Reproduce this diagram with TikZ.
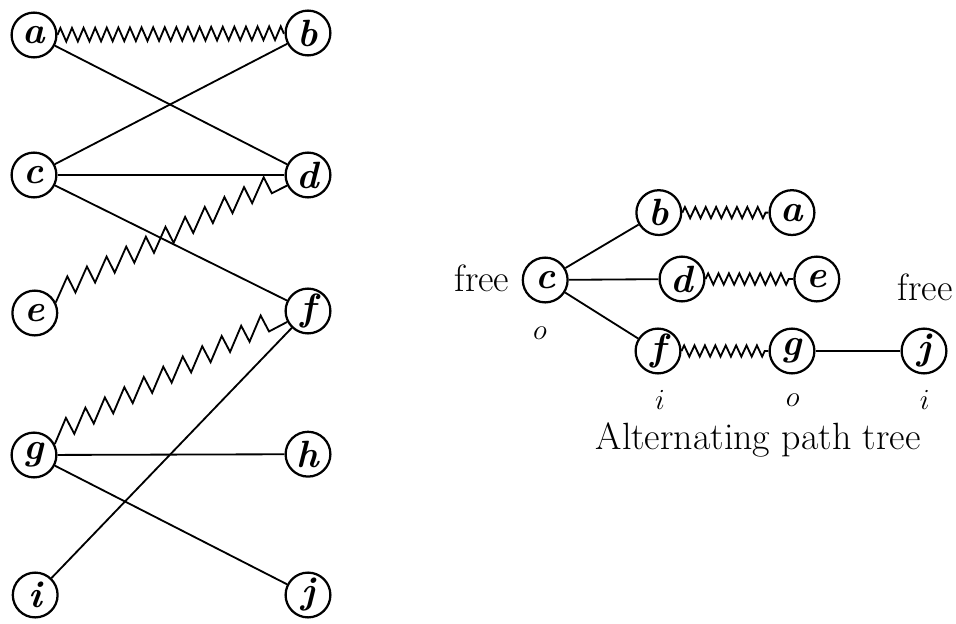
\documentclass[tikz,border=0pt]{standalone}
\usepackage{tikz}
\usetikzlibrary{decorations.pathmorphing}

\tikzset{
  vert/.style={circle, draw, line width=1.6pt, minimum size=1.12cm, inner sep=0pt,
    font=\fontsize{27}{30}\selectfont\bfseries\itshape},
  lbl/.style={inner sep=0pt, font=\fontsize{27}{30}\selectfont},
  side/.style={inner sep=0pt, font=\fontsize{21}{24}\selectfont},
  matched/.style={decorate, decoration={zigzag, segment length=0.29cm, amplitude=0.17cm}},
  treematch/.style={decorate, decoration={zigzag, segment length=0.26cm, amplitude=0.14cm}},
  sawedge/.style={decorate, decoration={saw, segment length=0.55cm, amplitude=0.45cm}},
}

\begin{document}
\begin{tikzpicture}[line width=1.3pt]
        \useasboundingbox (0,0) rectangle (23.9,15.575);
        % Bipartite graph, left column
        \node[vert] (a) at (0.85,14.7) {a};
        \node[vert] (c) at (0.85,11.2) {c};
        \node[vert] (e) at (0.87,7.75) {e};
        \node[vert] (g) at (0.85,4.2) {g};
        \node[vert] (i) at (0.88,0.7) {i};
        % right column
        \node[vert] (b) at (7.7,14.75) {b};
        \node[vert] (d) at (7.7,11.2) {d};
        \node[vert] (f) at (7.7,7.8) {f};
        \node[vert] (h) at (7.7,4.22) {h};
        \node[vert] (j) at (7.7,0.7) {j};
        % Edges
        \draw [matched] (a) -- (b);
        \draw (a) -- (d);
        \draw (c) -- (b);
        \draw (c) -- (d);
        \draw (c) -- (f);
        \draw [sawedge] (e) -- (d);
        \draw [sawedge] (g) -- (f);
        \draw (i) -- (f);
        \draw (g) -- (h);
        \draw (g) -- (j);
        % Alternating path tree
        \node[vert] (tc) at (13.63,8.575) {c};
        \node[vert] (tb) at (16.47,10.26) {b};
        \node[vert] (ta) at (19.8,10.26) {a};
        \node[vert] (td) at (17.05,8.6) {d};
        \node[vert] (te) at (20.42,8.6) {e};
        \node[vert] (tf) at (16.45,6.8) {f};
        \node[vert] (tg) at (19.8,6.8) {g};
        \node[vert] (tj) at (23.1,6.8) {j};
        \draw (tc) -- (tb);
        \draw (tc) -- (td);
        \draw (tc) -- (tf);
        \draw [treematch] (tb) -- (ta);
        \draw [treematch] (td) -- (te);
        \draw [treematch] (tf) -- (tg);
        \draw (tg) -- (tj);
        % Labels
        \node[lbl] (free1) at (12.05,8.62) {free};
        \node[lbl, anchor=west] (free2) at (22.42,8.4) {free};
        \node[side] (oc) at (13.5,7.25) {$o$};
        \node[side] (if) at (16.5,5.57) {$i$};
        \node[side] (og) at (19.82,5.57) {$o$};
        \node[side] (ij) at (23.12,5.57) {$i$};
        \node[lbl, anchor=base west] (title) at (14.87,4.35) {Alternating path tree};
    \end{tikzpicture}
\end{document}
